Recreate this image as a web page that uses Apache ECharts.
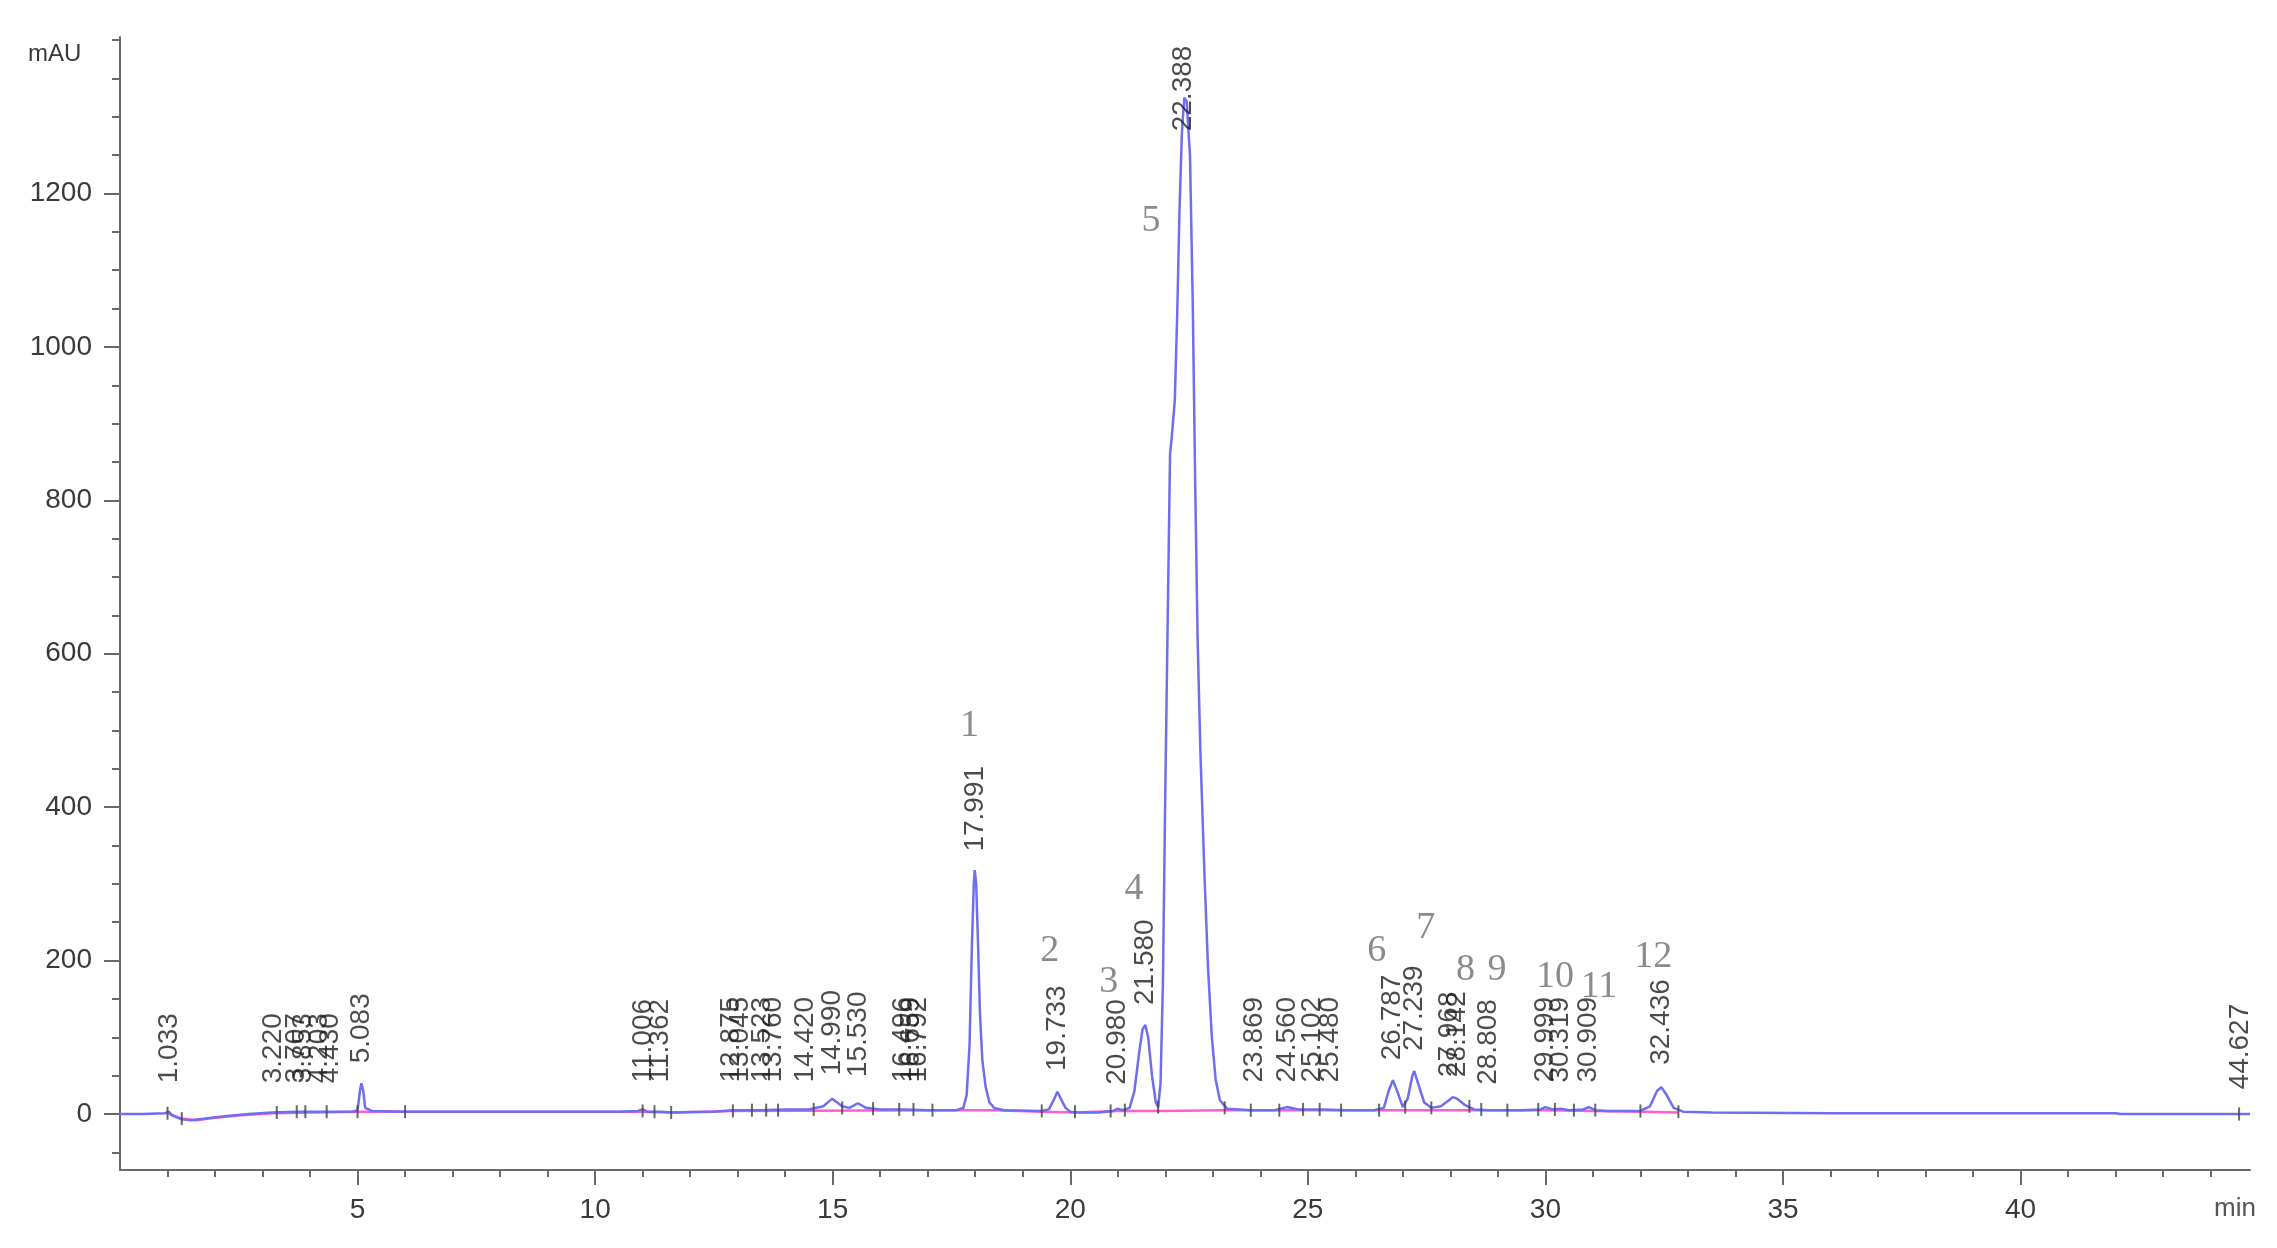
<!DOCTYPE html>
<html>
<head>
<meta charset="utf-8">
<script src="https://cdn.jsdelivr.net/npm/echarts@6/dist/echarts.min.js"></script>
<style>
  html, body { margin: 0; padding: 0; background: #fff; }
  #chart { width: 2277px; height: 1248px; }
</style>
</head>
<body>
<div id="chart"></div>
<script>
// detector signal (min, mAU)
const signal = [
  [0, 0], [0.5, 0], [0.95, 1], [1.03, 3], [1.1, -2], [1.3, -7], [1.5, -8], [1.8, -6],
  [2.2, -3], [2.7, 0], [3.2, 2], [3.7, 3], [4.2, 3], [4.9, 3], [5.0, 5], [5.05, 30],
  [5.08, 40], [5.12, 30], [5.16, 8], [5.3, 4], [6.0, 3], [8.0, 3], [10.5, 3], [10.9, 4],
  [11.0, 6], [11.1, 3], [11.4, 3], [11.6, 2], [12.5, 3], [12.9, 5], [13.5, 5], [14.0, 6],
  [14.5, 6], [14.8, 10], [14.99, 20], [15.2, 10], [15.35, 8], [15.53, 14], [15.7, 8],
  [16.0, 6], [16.5, 6], [17.0, 5], [17.6, 5], [17.75, 8], [17.82, 25], [17.88, 90],
  [17.93, 220], [17.97, 300], [17.99, 318], [18.02, 300], [18.06, 220], [18.1, 130],
  [18.15, 70], [18.22, 35], [18.3, 15], [18.4, 8], [18.6, 5], [19.4, 4], [19.55, 6],
  [19.65, 18], [19.73, 29], [19.8, 20], [19.9, 8], [20.0, 3], [20.2, 2], [20.6, 2],
  [20.9, 4], [21.0, 7], [21.1, 5], [21.25, 8], [21.35, 30], [21.45, 80], [21.52, 110],
  [21.58, 116], [21.64, 100], [21.72, 50], [21.8, 15], [21.85, 9], [21.9, 40],
  [21.95, 170], [22.0, 420], [22.05, 640], [22.1, 860], [22.14, 885], [22.2, 930],
  [22.25, 1040], [22.3, 1180], [22.35, 1280], [22.4, 1325], [22.45, 1320], [22.52, 1250],
  [22.58, 1050], [22.63, 820], [22.68, 620], [22.74, 470], [22.82, 320], [22.9, 190],
  [22.98, 100], [23.06, 45], [23.15, 18], [23.3, 7], [23.8, 5], [24.3, 5],
  [24.56, 9], [24.8, 6], [25.3, 6], [25.8, 5], [26.4, 5], [26.6, 8], [26.7, 30],
  [26.79, 44], [26.88, 30], [27.0, 9], [27.1, 20], [27.2, 50], [27.24, 56], [27.32, 40],
  [27.45, 15], [27.6, 8], [27.8, 10], [27.97, 18], [28.05, 22], [28.14, 20], [28.3, 12],
  [28.5, 6], [28.8, 5], [29.5, 5], [29.9, 6], [30.0, 9], [30.15, 6], [30.32, 7],
  [30.5, 5], [30.8, 6], [30.91, 9], [31.05, 5], [31.3, 4], [32.0, 4], [32.2, 10],
  [32.35, 30], [32.44, 35], [32.55, 25], [32.7, 8], [32.9, 3], [33.5, 2], [36, 1],
  [40, 1], [42, 1], [42.1, 0], [44.6, 0], [44.83, 0]
];

// integration baseline
const baseline = [
  [1.0, 1], [1.3, -6], [1.6, -8], [2.0, -5], [2.5, -2], [3.2, 1], [5.0, 3], [5.2, 3],
  [10.9, 3], [11.6, 2], [12.9, 4], [17.2, 5], [17.8, 5], [18.4, 5], [19.4, 3], [20.1, 2],
  [21.0, 4], [21.9, 4], [23.2, 5], [26.6, 5], [27.6, 5], [28.5, 5], [30.0, 5], [31.0, 4],
  [32.1, 3], [32.8, 2]
];

// retention times and the height each time label sits at
const peakTimes = [
  1.033, 3.220, 3.707, 3.853, 4.203, 4.430, 5.083, 11.006, 11.362, 12.875, 13.045,
  13.523, 13.760, 14.420, 14.990, 15.530, 16.496, 16.659, 16.792, 17.991, 19.733,
  20.980, 21.580, 22.388, 23.869, 24.560, 25.102, 25.480, 26.787, 27.239, 27.968,
  28.142, 28.808, 29.999, 30.319, 30.909, 32.436, 44.627
];
const labelLevels = [
  14, 14, 14, 14, 14, 14, 40, 15, 15, 15, 15, 15, 15, 15, 24, 22, 15, 15, 15, 316, 30,
  12, 116, 1255, 15, 15, 15, 15, 44, 56, 22, 22, 12, 15, 15, 15, 38, 6
];

// integration start / stop marks
const markerTimes = [
  1.0, 1.3, 3.3, 3.72, 3.9, 4.35, 5.0, 6.0, 11.0, 11.25, 11.6, 12.9, 13.3, 13.6, 13.85,
  14.6, 15.2, 15.85, 16.4, 16.7, 17.1, 19.4, 20.1, 20.85, 21.15, 21.85, 23.25, 23.8,
  24.4, 24.9, 25.25, 25.7, 26.5, 27.05, 27.6, 28.4, 28.65, 29.2, 29.85, 30.2, 30.6,
  31.05, 32.0, 32.8, 44.6
];
const markerLevels = [
  1, -6, 2, 3, 3, 3, 3, 3, 4, 3, 2, 4, 5, 5, 5, 6, 8, 7, 6, 6, 5, 4, 3, 4, 5, 9, 8, 5,
  5, 6, 6, 5, 5, 9, 8, 10, 6, 5, 6, 6, 5, 5, 4, 3, 0
];

// compound numbers drawn over the peaks
const compoundNames = ['1', '2', '3', '4', '5', '6', '7', '8', '9', '10', '11', '12'];
const compoundX = [17.88, 19.57, 20.81, 21.34, 21.70, 26.45, 27.48, 28.32, 28.98, 30.2, 31.13, 32.27];
const compoundY = [506, 212, 172, 293, 1164, 213, 243, 188, 188, 178, 166, 204];

const xMajorTicks = [5, 10, 15, 20, 25, 30, 35, 40];
const xMinorTicks = [
  1, 2, 3, 4, 5, 6, 7, 8, 9, 10, 11, 12, 13, 14, 15, 16, 17, 18, 19, 20, 21, 22, 23,
  24, 25, 26, 27, 28, 29, 30, 31, 32, 33, 34, 35, 36, 37, 38, 39, 40, 41, 42, 43, 44
];
const yMajorTicks = [0, 200, 400, 600, 800, 1000, 1200];
const yMinorTicks = [
  -50, 0, 50, 100, 150, 200, 250, 300, 350, 400, 450, 500, 550, 600, 650, 700, 750,
  800, 850, 900, 950, 1000, 1050, 1100, 1150, 1200, 1250, 1300, 1350, 1400
];

const axisColor = '#6a6a6a';
const sans = 'Liberation Sans, Arial, sans-serif';

const chart = echarts.init(document.getElementById('chart'));

const xBase = { type: 'value', min: 0, max: 44.83, position: 'bottom', splitLine: { show: false } };
const yBase = { type: 'value', min: -73, max: 1404, position: 'left', splitLine: { show: false } };

chart.setOption({
  animation: false,
  backgroundColor: '#fff',
  grid: { left: 120, right: 27, top: 37, bottom: 78 },
  xAxis: [
    {
      ...xBase,
      axisLine: { onZero: false, lineStyle: { color: axisColor, width: 2 } },
      axisTick: { customValues: xMinorTicks, length: 7, lineStyle: { color: axisColor, width: 2 } },
      axisLabel: { show: false },
    },
    {
      ...xBase,
      axisLine: { show: false, onZero: false },
      axisTick: { customValues: xMajorTicks, length: 15, lineStyle: { color: axisColor, width: 2 } },
      axisLabel: {
        customValues: xMajorTicks, margin: 26, fontSize: 28, color: '#3a3a3a', fontFamily: sans,
      },
    },
  ],
  yAxis: [
    {
      ...yBase,
      axisLine: { show: true, onZero: false, lineStyle: { color: axisColor, width: 2 } },
      axisTick: { show: true, customValues: yMinorTicks, length: 8, lineStyle: { color: axisColor, width: 2 } },
      axisLabel: { show: false },
    },
    {
      ...yBase,
      axisLine: { show: false, onZero: false },
      axisTick: { show: true, customValues: yMajorTicks, length: 16, lineStyle: { color: axisColor, width: 2 } },
      axisLabel: {
        customValues: yMajorTicks, margin: 28, fontSize: 28, color: '#3a3a3a', fontFamily: sans,
        formatter: (v) => String(v),
      },
    },
  ],
  graphic: [
    {
      type: 'text', left: 28, top: 42,
      style: { text: 'mAU', fontSize: 24, fill: '#3a3a3a', fontFamily: sans },
    },
    {
      type: 'text', left: 2214, top: 1196,
      style: { text: 'min', fontSize: 26, fill: '#555', fontFamily: sans },
    },
  ],
  series: [
    {
      name: 'baseline',
      type: 'line',
      data: baseline,
      symbol: 'none',
      lineStyle: { color: '#ff5cd6', width: 2.5 },
      z: 2,
    },
    {
      name: 'signal',
      type: 'line',
      data: signal,
      symbol: 'none',
      lineStyle: { color: '#6e6ef2', width: 2.5 },
      z: 3,
    },
    {
      name: 'marks',
      type: 'scatter',
      data: markerTimes.map((t, i) => [t, markerLevels[i]]),
      symbol: 'rect',
      symbolSize: [2, 13],
      itemStyle: { color: '#444' },
      z: 4,
    },
    {
      name: 'rt',
      type: 'scatter',
      data: peakTimes.map((t, i) => ({ value: [t, labelLevels[i]], name: t.toFixed(3) })),
      symbolSize: 0,
      label: {
        show: true,
        formatter: (p) => p.name,
        position: 'top',
        distance: 20,
        rotate: 90,
        align: 'left',
        verticalAlign: 'middle',
        fontSize: 28,
        color: '#1e1e1e',
        fontFamily: sans,
      },
      z: 5,
    },
    {
      name: 'compounds',
      type: 'scatter',
      data: compoundX.map((x, i) => ({ value: [x, compoundY[i]], name: compoundNames[i] })),
      symbolSize: 0,
      label: {
        show: true,
        formatter: (p) => p.name,
        position: 'inside',
        fontSize: 38,
        color: '#6e6e6e',
        fontFamily: 'Liberation Serif, Times New Roman, serif',
      },
      z: 5,
    },
  ],
});
</script>
</body>
</html>
